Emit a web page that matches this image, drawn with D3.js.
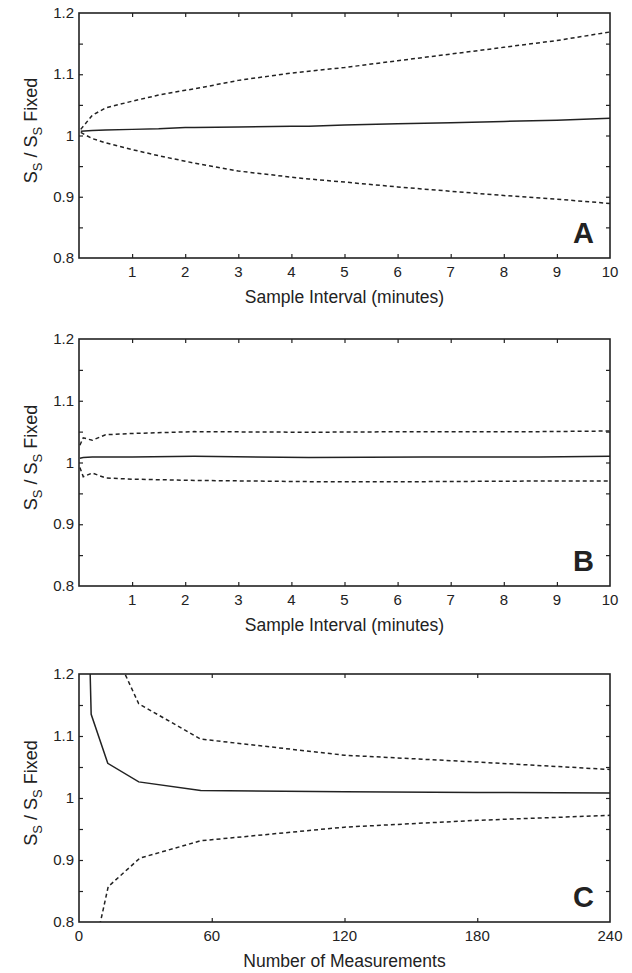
<!DOCTYPE html>
<html>
<head>
<meta charset="utf-8">
<script src="https://cdn.jsdelivr.net/npm/d3@7"></script>
<style>
  body { margin: 0; background: #fff; }
  svg text { font-family: "Liberation Sans", Arial, sans-serif; fill: #222; }
</style>
</head>
<body>
<svg id="chart"></svg>
<script>
// panel A: sample interval (minutes)
var intervalA = [0.033, 0.25, 0.5, 1, 1.5, 2, 2.17, 3, 4, 4.33, 5, 6, 7, 8, 9, 10];
var meanA     = [1.007, 1.008, 1.009, 1.010, 1.011, 1.013, 1.013, 1.014, 1.015, 1.015, 1.017, 1.019, 1.021, 1.023, 1.025, 1.028];
var upperA    = [1.010, 1.033, 1.045, 1.056, 1.066, 1.074, 1.076, 1.090, 1.102, 1.105, 1.111, 1.122, 1.133, 1.144, 1.155, 1.169];
var lowerA    = [1.005, 0.995, 0.988, 0.977, 0.967, 0.958, 0.955, 0.942, 0.932, 0.929, 0.924, 0.916, 0.909, 0.902, 0.896, 0.889];

// panel B: sample interval (minutes)
var intervalB = [0.017, 0.08, 0.25, 0.5, 1, 2.17, 4.33, 6.5, 8.67, 10];
var meanB     = [1.007, 1.008, 1.009, 1.009, 1.009, 1.010, 1.008, 1.009, 1.009, 1.010];
var upperB    = [1.028, 1.040, 1.036, 1.045, 1.047, 1.050, 1.049, 1.050, 1.050, 1.051];
var lowerB    = [0.992, 0.977, 0.983, 0.975, 0.973, 0.971, 0.969, 0.969, 0.970, 0.970];

// panel C: number of measurements
var measuresC = [4, 5.5, 13, 27, 55, 120, 180, 240];
var meanC     = [1.35, 1.135, 1.056, 1.026, 1.012, 1.010, 1.009, 1.008];
var upperXC   = [13, 27, 55, 120, 180, 240];
var upperC    = [1.26, 1.152, 1.095, 1.069, 1.058, 1.046];
var lowerXC   = [6, 13.2, 27.5, 55, 120, 180, 240];
var lowerC    = [0.74, 0.857, 0.903, 0.931, 0.953, 0.964, 0.972];

var yTicks = [0.8, 0.9, 1.0, 1.1, 1.2];
var yMinorTicks = [0.8, 0.85, 0.9, 0.95, 1.0, 1.05, 1.1, 1.15, 1.2];
var xTicksAB = [1, 2, 3, 4, 5, 6, 7, 8, 9, 10];
var xTicksC = [0, 60, 120, 180, 240];

var $svg = {width: 632, height: 973};
var $ink = '#222';

function init () {
    $svg.main = (
        d3.select('svg#chart')
        .attr('width', $svg.width)
        .attr('height', $svg.height)
    );

    makePanel({
        id: 'a', top: 13, height: 245, letter: 'A',
        xDomain: [0, 10], xTicks: xTicksAB,
        xTitle: 'Sample Interval (minutes)',
        series: [
            {x: intervalA, y: meanA, dashed: false},
            {x: intervalA, y: upperA, dashed: true},
            {x: intervalA, y: lowerA, dashed: true},
        ],
    });
    makePanel({
        id: 'b', top: 339, height: 247, letter: 'B',
        xDomain: [0, 10], xTicks: xTicksAB,
        xTitle: 'Sample Interval (minutes)',
        series: [
            {x: intervalB, y: meanB, dashed: false},
            {x: intervalB, y: upperB, dashed: true},
            {x: intervalB, y: lowerB, dashed: true},
        ],
    });
    makePanel({
        id: 'c', top: 674, height: 248, letter: 'C',
        xDomain: [0, 240], xTicks: xTicksC,
        xTitle: 'Number of Measurements',
        series: [
            {x: measuresC, y: meanC, dashed: false},
            {x: upperXC, y: upperC, dashed: true},
            {x: lowerXC, y: lowerC, dashed: true},
        ],
    });
}

function makePanel (p) {
    var left = 79, right = 610;
    var x = d3.scaleLinear().domain(p.xDomain).range([left, right]);
    var y = d3.scaleLinear().domain([0.8, 1.2]).range([p.top + p.height, p.top]);
    var g = $svg.main.append('g');

    g.append('clipPath')
        .attr('id', 'clip-' + p.id)
        .append('rect')
        .attr('x', left).attr('y', p.top)
        .attr('width', right - left).attr('height', p.height);

    var line = d3.line()
        .x(d => x(d[0]))
        .y(d => y(d[1]));

    p.series.forEach((s) => {
        (
            g.append('path')
            .attr('clip-path', 'url(#clip-' + p.id + ')')
            .attr('d', line(d3.zip(s.x, s.y)))
            .attr('fill', 'none')
            .attr('stroke', $ink)
            .attr('stroke-width', 1.5)
            .attr('stroke-dasharray', s.dashed ? '4,3' : null)
        );
    });

    // axes, ticks drawn inward on all four sides
    var tickLen = 4;
    var inner = p.xTicks.filter(t => t > p.xDomain[0] && t < p.xDomain[1]);
    g.append('g')
        .attr('transform', `translate(0,${p.top + p.height})`)
        .call(d3.axisBottom(x).tickValues(inner).tickSize(-tickLen).tickFormat(''))
        .call(axisStyle);
    g.append('g')
        .attr('transform', `translate(0,${p.top})`)
        .call(d3.axisTop(x).tickValues(inner).tickSize(-tickLen).tickFormat(''))
        .call(axisStyle);
    var yInner = yMinorTicks.filter(t => t > 0.8 && t < 1.2);
    g.append('g')
        .attr('transform', `translate(${left},0)`)
        .call(d3.axisLeft(y).tickValues(yInner).tickSize(-tickLen).tickFormat(''))
        .call(axisStyle);
    g.append('g')
        .attr('transform', `translate(${right},0)`)
        .call(d3.axisRight(y).tickValues(yInner).tickSize(-tickLen).tickFormat(''))
        .call(axisStyle);

    g.append('rect')
        .attr('x', left).attr('y', p.top)
        .attr('width', right - left).attr('height', p.height)
        .attr('fill', 'none')
        .attr('stroke', $ink)
        .attr('stroke-width', 1.6);

    // tick labels
    g.selectAll('.xl')
        .data(p.xTicks)
        .join('text')
        .attr('x', d => x(d))
        .attr('y', p.top + p.height + 19)
        .attr('text-anchor', 'middle')
        .attr('font-size', 15)
        .text(d => d);
    g.selectAll('.yl')
        .data(yTicks)
        .join('text')
        .attr('x', left - 5)
        .attr('y', d => y(d) + 5)
        .attr('text-anchor', 'end')
        .attr('font-size', 15)
        .text(d => +d.toFixed(1));

    g.append('text')
        .attr('x', (left + right) / 2)
        .attr('y', p.top + p.height + 45)
        .attr('text-anchor', 'middle')
        .attr('font-size', 17.5)
        .text(p.xTitle);

    // y title: S_S / S_S Fixed
    var cy = p.top + p.height / 2 - 5;
    var t = (
        g.append('text')
        .attr('transform', `translate(37,${cy}) rotate(-90)`)
        .attr('text-anchor', 'middle')
        .attr('font-size', 18)
    );
    t.append('tspan').text('S');
    t.append('tspan').attr('font-size', 13).attr('dy', 5).text('S');
    t.append('tspan').attr('dy', -5).text(' / S');
    t.append('tspan').attr('font-size', 13).attr('dy', 5).text('S');
    t.append('tspan').attr('dy', -5).text(' Fixed');

    g.append('text')
        .attr('x', right - 16)
        .attr('y', p.top + p.height - 15)
        .attr('text-anchor', 'end')
        .attr('font-size', 29)
        .attr('font-weight', 'bold')
        .text(p.letter);
}

function axisStyle (sel) {
    sel.select('.domain').remove();
    sel.selectAll('.tick line')
        .attr('stroke', $ink)
        .attr('stroke-width', 1.2);
}

init();
</script>
</body>
</html>
